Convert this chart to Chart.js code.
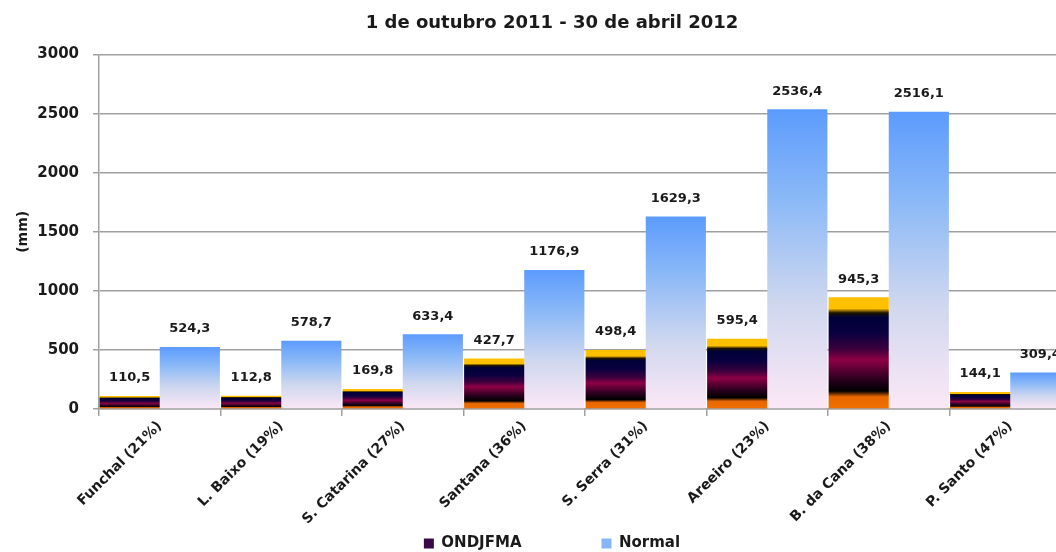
<!DOCTYPE html>
<html>
<head>
<meta charset="utf-8">
<script src="https://cdn.jsdelivr.net/npm/chart.js@4"></script>
<style>
  html, body { margin: 0; padding: 0; overflow: hidden; background: #fff; }
  #wrap { width: 1104px; height: 561px; }
</style>
</head>
<body>
<div id="wrap"><canvas id="barChart"></canvas></div>
<script>
const estacoes = ['Funchal (21%)', 'L. Baixo (19%)', 'S. Catarina (27%)', 'Santana (36%)', 'S. Serra (31%)', 'Areeiro (23%)', 'B. da Cana (38%)', 'P. Santo (47%)'];
const ondjfma = [110.5, 112.8, 169.8, 427.7, 498.4, 595.4, 945.3, 144.1];
const normal = [524.3, 578.7, 633.4, 1176.9, 1629.3, 2536.4, 2516.1, 309.4];
const yTicks = [0, 500, 1000, 1500, 2000, 2500, 3000];

// gradient stops, bottom (0) to top (1) of each bar
const stopsOndjfma = [[0, '#f07000'], [0.11, '#e86800'], [0.16, '#000000'], [0.27, '#2c0020'], [0.44, '#8e0046'], [0.54, '#3a003c'], [0.68, '#0a0040'], [0.82, '#000038'], [0.86, '#1c1200'], [0.9, '#ffc000'], [1, '#ffc000']];
const stopsNormal = [[0, '#fce8f6'], [0.35, '#cfd7ef'], [0.7, '#8bb9f7'], [1, '#5c9bfd']];
const swatches = ['#3a0a48', '#86b6f9'];

function barFill(stops, solid) {
  return (c) => {
    if (c.type !== 'data') return solid;
    const y = c.chart.scales.y;
    if (!y) return solid;
    const y0 = y.getPixelForValue(0);
    const y1 = y.getPixelForValue(c.raw);
    if (!isFinite(y0) || !isFinite(y1) || y0 === y1) return solid;
    const g = c.chart.ctx.createLinearGradient(0, y0, 0, y1);
    stops.forEach(s => g.addColorStop(s[0], s[1]));
    return g;
  };
}

const fmt = v => v.toFixed(1).replace('.', ',');

const valueLabels = {
  id: 'valueLabels',
  afterDatasetsDraw(chart) {
    const ctx = chart.ctx;
    ctx.save();
    ctx.font = 'bold 13px "DejaVu Sans"';
    ctx.fillStyle = '#1a1a1a';
    ctx.textAlign = 'center';
    ctx.textBaseline = 'middle';
    chart.data.datasets.forEach((ds, i) => {
      chart.getDatasetMeta(i).data.forEach((bar, j) => {
        ctx.fillText(fmt(ds.data[j]), bar.x, bar.y - 18);
      });
    });
    ctx.restore();
  }
};

// rotated category labels hang below the x axis box; don't clip them to it
const unclipX = {
  id: 'unclipX',
  afterLayout(chart) { chart.scales.x.bottom = chart.height; }
};

Chart.defaults.font.family = '"DejaVu Sans"';
Chart.defaults.color = '#1a1a1a';

const gridCol = '#a0a0a0';

new Chart(document.getElementById('barChart'), {
  type: 'bar',
  data: {
    labels: estacoes,
    datasets: [{
      label: 'ONDJFMA',
      data: ondjfma,
      backgroundColor: barFill(stopsOndjfma, swatches[0]),
      borderWidth: 0
    }, {
      label: 'Normal',
      data: normal,
      backgroundColor: barFill(stopsNormal, swatches[1]),
      borderWidth: 0
    }]
  },
  options: {
    responsive: true,
    maintainAspectRatio: false,
    animation: false,
    categoryPercentage: 0.99,
    barPercentage: 1,
    layout: { padding: 0 },
    scales: {
      x: {
        grid: { display: true, drawOnChartArea: false, drawTicks: true, tickLength: 7, color: gridCol, lineWidth: 1.5 },
        border: { color: gridCol, width: 1.5 },
        ticks: { autoSkip: false, minRotation: 45, maxRotation: 45, padding: 2, font: { size: 14, weight: 'bold' } },
        afterFit: s => { s.height = 47; }
      },
      y: {
        min: 0,
        max: 3000,
        afterBuildTicks: s => { s.ticks = yTicks.map(v => ({ value: v })); },
        grid: { color: gridCol, lineWidth: 1.5, tickLength: 6 },
        border: { color: gridCol, width: 1.5 },
        ticks: { padding: 14, font: { size: 15, weight: 'bold' }, callback: v => String(v) },
        title: { display: true, text: '(mm)', font: { size: 14, weight: 'bold' }, padding: { top: 15, bottom: 0 } },
        afterFit: s => { s.width = 99; }
      },
      y2: {
        position: 'right',
        display: true,
        grid: { display: false },
        border: { display: false },
        ticks: { display: false },
        afterFit: s => { s.width = 33; }
      }
    },
    plugins: {
      title: {
        display: true,
        text: '1 de outubro 2011 - 30 de abril 2012',
        font: { size: 18, weight: 'bold' },
        color: '#1a1a1a',
        padding: { top: 13, bottom: 20 }
      },
      legend: {
        display: true,
        position: 'bottom',
        labels: {
          boxWidth: 10, boxHeight: 10, padding: 80,
          font: { size: 15, weight: 'bold' }, color: '#1a1a1a',
          generateLabels: chart => chart.data.datasets.map((ds, i) => ({
            text: ds.label, fillStyle: swatches[i], strokeStyle: swatches[i],
            lineWidth: 0, hidden: false, datasetIndex: i, fontColor: '#1a1a1a'
          }))
        }
      },
      tooltip: { enabled: false }
    }
  },
  plugins: [valueLabels, unclipX]
});
</script>
</body>
</html>
